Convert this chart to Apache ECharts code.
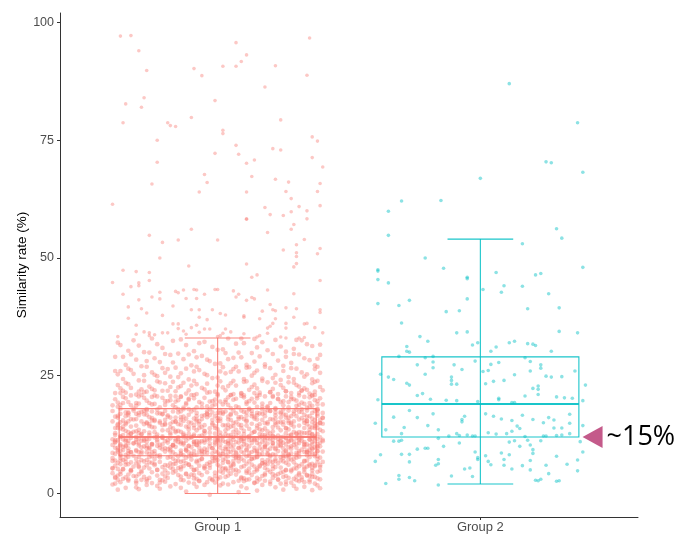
<!DOCTYPE html>
<html>
<head>
<meta charset="utf-8">
<script src="https://cdn.jsdelivr.net/npm/echarts@6/dist/echarts.min.js"></script>
<style>html,body{margin:0;padding:0;background:#fff}#c{width:688px;height:534px}</style>
</head>
<body>
<div id="c"></div>
<script>
const categories = ['Group 1', 'Group 2'];
const yTicks = [0, 25, 50, 75, 100];
// [min, Q1, median, Q3, max]
const boxStats = [[0, 8, 12, 18, 33], [2, 12, 19, 29, 54]];
const annotationValue = 12;
const annotationText = '~15%';

// points: [jitter (hundredths of a category), value]
const g1High = [
[-37,97.1],[-33,97.2],[-30,94.0],[-27,89.8],[-35,82.7],[-28,84.0],[-29,82.0],[-36,78.7],[-19,78.7],[-18,78.1],[-16,77.9],[-10,79.8],[-23,75.0],[-23,70.3],[-25,65.7],[-40,61.4],[-26,54.8],[-21,53.3],[-15,53.8],[-22,50.0],[-10,56.1],[-9,90.2],[-6,88.7],[2,90.7],[7,95.7],[7,90.7],[9,91.7],[11,93.1],[-1,83.4],[2,77.1],[2,76.4],[-1,72.2],[7,73.9],[8,72.0],[11,70.1],[14,70.8],[13,67.3],[-5,67.7],[-4,66.0],[-7,64.0],[11,64.0],[11,58.2],[11,58.3],[0,53.8],[11,48.7],[-11,48.3],[18,86.3],[22,90.8],[24,79.3],[21,73.2],[24,72.9],[22,66.7],[27,66.1],[26,64.1],[28,62.6],[18,60.7],[20,59.2],[25,59.0],[28,59.8],[31,60.9],[19,55.4],[29,57.1],[28,56.1],[30,52.8],[25,51.7],[30,51.1],[30,50.3],[33,53.9],[30,48.8],[29,48.1],[35,96.7],[34,88.8],[36,75.7],[38,74.8],[36,71.3],[40,69.3],[39,65.8],[38,64.1],[39,61.1],[34,60.0],[34,58.3],[39,52.0],[38,50.9],
[-36,47.4],[-31,47.1],[-26,46.9],[-40,44.8],[-33,43.9],[-30,44.7],[-30,44.1],[-26,45.2],[13,45.9],[15,46.4],[39,45.2],[-36,42.3],[-30,41.1],[-25,41.7],[-22,42.7],[-22,41.3],[-16,42.9],[-15,42.6],[-13,43.2],[-12,41.4],[-9,43.3],[-8,43.2],[-8,41.4],[-5,42.3],[-1,43.3],[0,43.3],[6,43.0],[8,42.3],[7,41.7],[11,41.0],[13,41.6],[14,41.3],[19,43.2],[29,42.4],[-34,39.6],[-29,39.2],[-27,38.3],[-34,37.2],[-17,39.8],[-10,39.0],[-7,39.0],[-2,39.0],[1,38.2],[3,37.9],[-7,37.4],[-4,36.9],[-21,37.8],[10,37.7],[10,37.4],[16,37.1],[17,38.7],[20,40.1],[21,39.0],[22,38.8],[22,37.1],[26,39.4],[30,39.2],[29,37.4],[39,38.4],[39,39.0],[-31,35.7],[-17,36.0],[-15,36.0],[-15,35.0],[-10,35.2],[-8,35.7],[-5,34.9],[-3,34.9],[3,34.9],[5,34.3],[19,35.1],[20,35.5],[21,36.1],[26,36.1],[26,35.1],[33,36.0],[34,36.1],[37,35.2],[40,34.1],[-38,33.3],[-31,33.8],[-28,34.3],[-26,34.1],[-26,33.5],[-24,33.7],[-21,34.1],[-19,34.1],[-13,34.5],[-12,33.8],[-7,34.2],[0,33.3],[1,33.5],[2,34.0],[10,33.9],[15,33.2],[16,33.5],[19,34.0],[24,33.2],[26,33.0],[31,33.0],[33,33.1]
];

const g1Core = [
[-12,0.4],[25,0.8],[-30,0.9],[8,0.3],[36,0.7],[-22,1.0],[15,0.6],[-3,-0.3],[30,1.0],[-38,0.8],
[-35,1.2],[-18,1.5],[4,1.9],[22,1.3],[38,1.7],[-27,1.8],[11,1.1],[29,1.6],[-8,1.4],[-40,1.9],[17,1.8],[-14,1.2],[33,1.4],[1,1.7],[-23,1.6],[26,1.9],[-31,1.3],[9,1.5],[39,1.1],[-5,1.8],
[-39,2.1],[-20,2.5],[-2,2.8],[14,2.2],[31,2.6],[-29,2.9],[6,2.4],[23,2.9],[-11,2.3],[37,2.1],[-34,2.7],[18,2.7],[-16,2.0],[2,2.1],[28,2.3],[-25,2.2],[11,2.9],[-7,2.6],[35,2.8],[-37,2.4],[20,2.0],[-13,2.8],[26,2.5],[-1,2.3],[-31,2.6],[8,2.7],[33,2.4],[-22,2.9],[15,2.5],[-9,2.1],
[-36,3.1],[-14,3.6],[5,4.2],[27,3.3],[39,4.8],[-25,4.5],[13,3.9],[-3,3.2],[31,4.0],[-38,3.8],[20,4.6],[-9,4.9],[9,3.4],[-30,4.1],[35,3.7],[-19,3.3],[1,4.7],[24,4.4],[-33,4.9],[16,3.0],
[-6,3.9],[37,3.5],[-23,3.8],[11,4.8],[29,3.1],[-40,4.3],[-12,4.1],[3,3.5],[22,3.8],[-27,3.0],[33,4.5],[-16,4.7],[7,4.0],[-35,3.4],[18,4.2],[-1,3.7],[38,3.2],[-21,4.2],[14,4.6],[-8,3.1],
[26,4.9],[-31,3.6],[2,4.4],[30,3.6],[-17,4.4],[10,3.2],[-37,4.6],[23,3.0],[-4,4.5],[36,4.2],[-26,3.3],[17,3.7],[-11,3.5],[34,3.9],[-2,3.0],[-29,4.8],[12,4.4],[25,3.5],[-15,3.9],[39,3.0],
[-34,4.0],[6,4.9],[21,4.1],[-20,4.9],[15,3.3],[-7,4.3],[28,4.7],[-39,3.5],[4,3.8],[32,3.4],
[-38,5.2],[-22,6.7],[-7,5.9],[9,7.4],[24,5.5],[36,6.3],[-30,7.8],[-14,5.1],[2,6.5],[17,7.1],[31,5.8],[-35,6.1],[-19,7.6],[-3,5.4],[12,6.8],[27,7.9],[39,5.6],[-26,5.3],[-10,7.2],[6,6.0],
[21,5.2],[34,7.0],[-40,6.9],[-17,6.2],[-1,7.7],[14,5.7],[29,6.6],[-33,5.0],[-12,6.4],[4,7.9],[19,6.2],[38,7.3],[-28,6.8],[-5,5.3],[10,5.8],[25,7.6],[-37,7.5],[-21,5.6],[0,6.1],[33,5.1],
[-31,6.4],[-15,7.0],[7,5.0],[22,6.9],[37,6.0],[-24,7.3],[-8,6.6],[15,7.8],[30,5.3],[-39,5.9],[-18,5.5],[3,7.3],[18,5.4],[35,7.7],[-27,6.0],[-11,7.9],[11,6.3],[26,5.0],[-36,7.1],[-2,6.8],
[-20,6.0],[8,7.6],[23,6.4],[40,6.7],[-32,5.7],[-13,5.8],[5,5.5],[20,7.8],[32,6.2],[-25,7.9],[-6,7.4],[13,6.1],[28,7.2],[-38,6.5],[-16,6.9],[1,5.7],[16,5.9],[36,5.4],[-29,7.1],[-9,5.0],
[10,7.0],[27,6.1],[-34,7.8],[-23,5.0],[-4,6.3],[14,7.5],[31,7.8],[-40,5.4],[-17,7.4],[6,6.9],[21,5.9],[38,6.6],[-28,5.5],[-11,6.1],[3,5.1],[18,6.6],[34,5.7],[-35,6.7],[-19,5.9],[-1,7.5],
[12,5.3],[25,6.8],[-31,7.3],[-7,7.0],[9,5.6],[29,7.4],[-37,6.2],[-14,6.7],[0,7.1],[17,6.4],[33,6.9],[-26,6.6],[-10,5.6],[7,7.7],[22,7.3],[39,7.6],[-22,7.7],[-3,6.0],[15,5.2],[30,6.0],
[-39,7.0],[-18,6.4],[4,6.6],[19,5.0],[35,5.9],[-30,5.6],[-12,7.6],[11,7.9],[26,6.5],[-33,6.6],[-5,5.8],[13,7.3],[37,7.9],[-24,6.3],[-8,6.9],[20,6.8],[-36,5.1],[2,5.3],[24,7.7],[-15,5.4],
[-37,8.3],[-21,10.4],[-6,9.1],[10,11.6],[25,8.7],[38,10.0],[-29,11.2],[-13,8.1],[3,9.8],[18,11.9],[32,9.3],[-34,9.6],[-18,11.7],[-2,8.5],[13,10.7],[28,11.3],[40,8.9],[-25,8.8],[-9,11.0],[6,10.2],
[22,8.2],[35,11.5],[-39,10.8],[-16,9.9],[0,11.4],[15,8.4],[30,10.5],[-32,8.0],[-11,10.1],[5,11.8],[20,9.5],[37,11.1],[-27,10.9],[-4,8.6],[11,9.2],[26,11.8],[-36,11.5],[-20,8.9],[1,9.7],[34,8.1],
[-30,10.2],[-14,11.0],[8,8.0],[23,10.9],[36,9.6],[-23,11.4],[-7,10.6],[16,11.9],[31,8.6],[-38,9.2],[-17,8.7],[4,11.2],[19,8.5],[36,11.7],[-26,9.5],[-10,11.9],[12,10.0],[27,8.3],[-35,11.1],[-1,10.8],
[-19,9.4],[9,11.6],[24,10.3],[39,10.8],[-31,9.0],[-12,9.1],[5,8.8],[21,11.5],[33,9.9],[-24,11.9],[-5,11.3],[14,9.7],[29,11.0],[-37,10.4],[-15,10.9],[2,9.0],[17,9.3],[35,8.5],[-28,11.2],[-8,8.2],
[10,11.1],[27,9.8],[-33,11.8],[-22,8.1],[-3,10.0],[15,11.4],[31,11.6],[-40,8.6],[-16,11.5],[7,10.9],[22,9.4],[38,10.5],[-27,8.7],[-10,9.8],[3,8.2],[19,10.6],[34,9.1],[-34,10.6],[-18,9.3],[0,11.9],
[12,8.6],[25,10.8],[-30,11.6],[-6,11.1],[9,8.9],[28,11.7],[-36,9.9],[-13,10.7],[1,11.3],[18,10.2],[33,10.9],[-25,10.5],[-9,9.0],[8,11.8],[23,11.6],[39,11.9],[-21,11.8],[-2,9.6],[16,8.3],[30,9.7],
[-38,11.3],[-17,10.3],[4,10.5],[20,8.1],[36,9.4],[-29,8.9],[-11,11.7],[11,11.9],[26,10.4],[-32,10.6],[-4,9.3],[14,11.5],[37,11.9],[-23,10.1],[-7,11.0],[21,10.7],[-35,8.2],[2,8.4],[24,11.9],[-14,8.6],
[-39,9.7],[-24,8.4],[-8,10.3],[7,8.7],[23,9.0],[35,10.1],[-28,10.0],[-12,11.2],[4,9.5],[17,11.0],[32,11.2],[-33,8.8],[-19,10.8],[-1,10.4],[13,8.8],[28,9.5],[40,11.4],[-26,11.6],[-10,8.4],[6,11.4],
[21,10.1],[34,8.7],[-37,9.1],[-15,11.6],[0,8.7],[16,10.5],[30,8.2],[-31,11.4],[-12,9.5],[5,10.0],[19,11.7],[37,8.4],[-27,9.6],[-5,10.8],[10,10.4],[26,9.1],[-35,10.2],[-20,11.1],[1,8.0],[33,10.3],
[-29,9.8],[-14,8.3],[8,9.7],[24,11.2],[38,9.0],[-22,9.7],[-6,8.9],[15,9.1],[31,10.7],[-39,11.0],[-17,10.2],[3,10.9],[18,9.9],[36,10.4],[-25,10.3],[-9,10.5],[12,11.3],[27,11.0],[-34,8.5],[-3,11.5],
[-36,12.4],[-20,15.6],[-5,13.3],[11,17.2],[26,12.8],[39,14.9],[-28,16.8],[-12,12.1],[4,14.6],[19,17.7],[33,13.9],[-33,14.2],[-17,17.4],[-1,12.7],[14,15.9],[29,16.9],[40,13.2],[-24,13.0],[-8,16.4],[7,15.1],
[23,12.3],[36,17.1],[-38,16.1],[-15,14.7],[1,17.0],[16,12.6],[31,15.7],[-31,12.0],[-10,15.0],[6,17.6],[21,14.1],[38,16.5],[-26,16.2],[-3,12.9],[12,13.7],[27,17.6],[-35,17.2],[-19,13.4],[2,14.5],[35,12.2],
[-29,15.3],[-13,16.3],[9,12.0],[24,16.1],[37,14.3],[-22,17.0],[-6,15.8],[17,17.9],[32,12.9],[-37,13.8],[-16,13.0],[5,16.7],[20,12.7],[37,17.5],[-25,14.1],[-9,17.8],[13,14.8],[28,12.4],[-34,16.6],[0,16.0],
[-18,14.0],[10,17.3],[25,15.2],[40,16.0],[-30,13.5],[-11,13.6],[6,13.1],[22,17.2],[34,14.7],[-23,17.8],[-4,16.8],[15,14.4],[30,16.4],[-36,15.5],[-14,16.2],[3,13.4],[18,13.8],[36,12.6],[-27,16.7],[-7,12.2],
[11,16.5],[28,14.6],[-32,17.6],[-21,12.1],[-2,14.9],[16,17.0],[32,17.3],[-39,12.8],[-15,17.2],[8,16.2],[23,14.0],[39,15.6],[-26,12.9],[-9,14.5],[4,12.3],[20,15.8],[35,13.5],[-33,15.8],[-17,13.8],[1,17.7],
[13,12.8],[26,16.1],[-29,17.3],[-5,16.6],[10,13.3],[29,17.4],[-35,14.7],[-12,15.9],[2,16.9],[19,15.1],[34,16.3],[-24,15.6],[-8,13.4],[9,17.6],[24,17.3],[38,17.8],[-20,17.5],[-1,14.3],[17,12.4],[31,14.4],
[-37,16.9],[-16,15.3],[5,15.6],[21,12.1],[37,13.9],[-28,13.2],[-10,17.4],[12,17.8],[27,15.4],[-31,15.8],[-3,13.8],[15,17.1],[38,17.9],[-22,15.0],[-6,16.5],[22,15.9],[-34,12.3],[3,12.6],[25,17.8],[-13,12.7],
[-38,14.5],[-23,12.5],[-7,15.3],[8,12.9],[24,13.4],[36,15.1],[-27,14.9],[-11,16.7],[5,14.2],[18,16.4],[33,16.7],[-32,13.1],[-18,16.1],[0,15.4],[14,13.1],[29,14.2],[40,17.1],[-25,17.4],[-9,12.5],[7,17.0],
[22,15.0],[35,12.9],[-36,13.6],[-14,17.4],[1,12.9],[17,15.6],[31,12.3],[-30,17.1],[-11,14.2],[6,15.0],[20,17.5],[38,12.6],[-26,14.3],[-4,16.2],[11,15.5],[27,13.6],[-34,15.3],[-19,16.6],[2,12.0],[34,15.4],
[-28,14.7],[-13,12.4],[9,14.5],[25,16.8],[39,13.5],[-21,14.5],[-5,13.2],[16,13.6],[32,16.0],[-38,16.5],[-16,15.2],[4,16.3],[19,14.8],[37,15.6],[-24,15.4],[-8,15.7],[13,16.9],[28,16.4],[-33,12.7],[-2,17.2],
[-39,13.9],[-21,16.9],[-6,14.1],[10,15.8],[26,13.8],[38,16.9],[-29,12.6],[-14,14.6],[3,17.4],[18,12.4],[33,15.0],[-34,17.0],[-18,12.5],[-2,15.6],[13,17.5],[29,13.1],[40,14.8],[-25,16.0],[-9,13.9],[7,13.5],
[22,16.6],[36,14.0],[-37,12.1],[-15,13.3],[0,13.6],[15,16.6],[30,12.8],[-31,14.4],[-11,17.9],[5,12.4],[21,13.2],[37,12.1],[-27,17.9],[-4,17.0],[12,12.2],[27,15.0],[-35,13.3],[-20,14.8],[1,15.9],[34,17.6],
[-38,18.4],[-21,20.3],[-6,19.1],[10,20.8],[25,18.7],[38,19.6],[-29,20.9],[-13,18.2],[3,19.8],[18,20.6],[32,19.3],[-34,19.4],[-18,20.7],[-2,18.6],[13,20.1],[28,20.5],[40,18.9],[-25,18.9],[-9,20.2],[6,19.9],
[22,18.1],[35,20.4],[-39,20.0],[-16,19.5],[0,20.8],[15,18.4],[30,19.7],[-32,18.0],[-11,19.9],[5,20.9],[20,19.2],[37,20.9],[-27,19.7],[-4,18.5],[11,19.0],[26,20.6],[-36,20.5],[-20,18.8],[1,19.5],[34,18.2],
[-30,19.1],[-14,20.5],[8,18.3],[23,20.0],[36,18.6],[-23,20.6],[-7,19.4],[16,20.9],[31,18.8],[-38,19.3],[-17,18.7],[4,20.4],[19,18.5],[36,20.7],[-26,19.2],[-10,20.9],[12,19.6],[27,18.3],[-35,20.2],[-1,19.9],
[-19,19.6],[9,20.7],[24,19.4],[39,20.2],[-31,18.6],[-12,18.9],[5,18.1],[21,20.5],[33,19.0],[-24,20.8],[-5,20.3],[14,19.3],[29,20.0],[-37,18.8],[-15,19.8],[2,18.9],[17,19.1],[35,18.4],[-28,20.3],[-8,18.3],
[10,20.4],[27,19.4],[-33,20.8],[-22,18.3],[-3,19.5],[15,20.2],[31,20.8],[-40,18.7],[-16,20.6],[7,20.1],
[-37,21.3],[-20,23.4],[-5,22.1],[11,23.8],[26,21.7],[39,22.6],[-28,23.9],[-12,21.2],[4,22.8],[19,23.6],[33,22.3],[-33,22.4],[-17,23.7],[-1,21.6],[14,23.1],[29,23.5],[40,21.9],[-24,21.9],[-8,23.2],[7,22.9],
[23,21.1],[36,23.4],[-38,23.0],[-15,22.5],[1,23.8],[16,21.4],[31,22.7],[-31,21.0],[-10,22.9],[6,23.9],[21,22.2],[38,23.9],[-26,22.7],[-3,21.5],[12,22.0],[27,23.6],[-35,23.5],[-19,21.8],[2,22.5],[35,21.2],
[-29,22.1],[-13,23.5],[9,21.3],[24,23.0],[37,21.6],[-22,23.6],[-6,22.4],[17,23.9],[32,21.8],[-37,22.3],[-16,21.7],[5,23.4],[20,21.5],[37,23.7],[-25,22.2],[-9,23.9],[13,22.6],[28,21.3],[-34,23.2],[0,22.9],
[-18,22.6],[10,23.7],[25,22.4],[-30,21.6],[-11,21.9],[6,21.1],[22,23.5],[34,22.0],[-23,23.8],[-4,23.3],[15,22.3],[30,23.0],[-36,21.8],[-14,22.8],[3,21.9],
[-36,24.3],[-19,26.4],[-4,25.1],[12,26.8],[27,24.7],[39,25.6],[-27,26.9],[-11,24.2],[5,25.8],[20,26.6],[34,25.3],[-32,25.4],[-16,26.7],[0,24.6],[15,26.1],[30,26.5],[-23,24.9],[-7,26.2],[8,25.9],[-39,26.0],
[24,24.1],[37,26.4],[-37,26.0],[-14,25.5],[2,26.8],[17,24.4],[32,25.7],[-30,24.0],[-9,25.9],[7,26.9],[22,25.2],[38,26.9],[-25,25.7],[-2,24.5],[13,25.0],[28,26.6],[-34,26.5],[-18,24.8],[3,25.5],[36,24.2],
[-28,25.1],[-12,26.5],[10,24.3],[25,26.0],[-21,26.6],[-5,25.4],[18,26.9],[33,24.8],[-38,25.3],[-15,24.7],[6,26.4],[21,24.5],[-24,25.2],[-8,26.9],[14,25.6],[29,24.3],[-33,26.2],[1,25.9],[-20,25.6],[11,26.7],
[-35,27.3],[-18,29.4],[-3,28.1],[13,29.8],[28,27.7],[38,28.6],[-26,29.9],[-10,27.2],[6,28.8],[21,29.6],[35,28.3],[-31,28.4],[-15,29.7],[1,27.6],[16,29.1],[31,29.5],[-22,27.9],[-6,29.2],[9,28.9],[-39,29.0],
[25,27.1],[39,29.4],[-36,29.0],[-13,28.5],[3,29.8],[18,27.4],[33,28.7],[-29,27.0],[-8,28.9],[8,29.9],[23,28.2],[-24,28.7],[-1,27.5],[14,28.0],[29,29.6],[-33,29.5],[-17,27.8],[4,28.5],[37,27.2],[-27,28.1],
[-11,29.5],[11,27.3],[26,29.0],[-20,29.6],[-4,28.4],
[-34,30.3],[-17,32.4],[-2,31.1],[14,32.8],[29,30.7],[39,31.6],[-25,32.9],[-9,30.2],[7,31.8],[22,32.6],[36,31.3],[-30,31.4],[-14,32.7],[2,30.6],[17,32.1],[32,32.5],[-21,30.9],[-5,32.2],[10,31.9],[-38,32.0],
[26,30.1],[-37,31.5],[-12,31.5],[4,32.9],[19,30.4],[34,31.7],[-28,30.0],[-7,31.9],[9,32.9],[24,31.2],[-23,31.7],[0,30.5],[15,31.0],[30,32.6],[-32,32.5]
];

const g1Core2 = [
[3,5.4],[-27,2.6],[19,7.1],[-9,3.9],[35,6.2],[-33,4.7],[14,2.3],[-18,7.8],[28,5.0],[-1,6.9],
[-39,3.3],[23,4.1],[7,7.5],[-24,6.0],[32,2.9],[-14,5.6],[0,3.1],[38,7.9],[-30,6.6],[11,4.4],
[-6,7.3],[26,3.7],[-36,5.2],[17,6.4],[-21,2.8],[36,4.9],[5,5.9],[-12,4.2],[30,7.6],[-28,3.5],
[21,6.7],[-4,2.4],[-37,7.0],[9,3.2],[33,5.5],[-16,6.3],[15,7.7],[-31,2.2],[25,4.6],[-8,5.1],
[-2,7.6],[31,4.3],[-25,6.5],[12,3.0],[37,5.8],[-35,7.4],[20,2.5],[-11,6.1],[4,4.8],[-20,3.6],
[27,7.2],[-40,5.3],[16,5.7],[-7,2.7],[34,3.8],[-29,4.5],[8,6.8],[-15,7.9],[24,2.1],[-34,6.2],
[1,3.4],[39,6.0],[-23,5.0],[13,7.4],[-10,4.0],[29,5.3],[-38,2.9],[18,3.9],[-3,6.6],[-26,7.7],
[35,2.4],[6,6.3],[-19,4.3],[22,5.6],[-32,3.7],[10,2.6],[-13,6.9],[38,4.6],[-5,5.5],[26,7.9],
[-37,4.1],[2,7.2],[-22,2.3],[33,6.8],[15,4.9],[-30,5.8],[-9,3.2],[21,3.3],[-17,5.2],[8,4.7],
[-40,7.5],[30,2.8],[-1,4.4],[18,6.2],[-27,7.1],[36,3.5],[-14,2.9],[4,6.7],[-34,3.0],[24,7.0],
[3,9.4],[-27,11.6],[19,8.3],[-9,10.9],[35,9.2],[-33,8.7],[14,11.3],[-18,9.8],[28,10.0],[-1,8.9],
[-39,11.3],[23,10.1],[7,8.5],[-24,9.0],[32,11.9],[-14,10.6],[0,11.1],[38,8.9],[-30,10.6],[11,9.4],
[-6,8.3],[26,11.7],[-36,9.2],[17,8.4],[-21,11.8],[36,10.9],[5,10.9],[-12,9.2],[30,8.6],[-28,11.5],
[21,10.7],[-4,11.4],[-37,8.0],[9,11.2],[33,10.5],[-16,8.3],[15,10.7],[-31,9.2],[25,9.6],[-8,11.1],
[-2,9.6],[31,11.3],[-25,10.5],[12,8.0],[37,9.8],[-35,11.4],[20,11.5],[-11,10.1],[4,8.8],[-20,9.6],
[27,8.2],[-40,10.3],[16,9.7],[-7,9.7],[34,8.8],[-29,8.5],[8,10.8],[-15,11.9],[24,10.1],[-34,11.2],
[1,10.4],[39,10.0],[-23,8.0],[13,11.4],[-10,8.0],[29,10.3],[-38,8.9],[18,9.9],[-3,10.6],[-26,9.7],
[35,11.4],[6,9.3],[-19,11.3],[22,9.6],[-32,10.7],[10,8.6],[-13,11.9],[38,11.6],[-5,9.5],[26,8.9],
[-37,10.1],[2,11.2],[-22,10.3],[33,8.8],[15,8.9],[-30,8.8],[-9,8.2],[21,8.3],[-17,10.2],[8,9.6],
[-40,11.5],[30,11.8],[-1,11.4],[18,11.2],[-27,10.1],[36,8.5],[-14,9.1],[4,10.7],[-34,9.0],[24,11.0],
[-5,8.7],[27,11.1],[-23,11.0],[11,10.3],[-38,9.7],[19,9.2],[-11,8.7],[34,10.4],[-31,10.9],[6,8.0],
[-18,8.9],[31,9.0],[-3,11.9],[14,9.1],[-26,8.4],[38,9.7],[-8,10.3],[22,11.9],[-35,10.0],[1,8.3],
[17,11.9],[-21,9.4],[28,8.5],[-13,10.4],[9,9.9],[-39,8.4],[25,8.0],[-16,11.1],[40,11.1],[-7,8.9],
[3,14.4],[-27,17.6],[19,12.3],[-9,15.9],[35,14.2],[-33,12.7],[14,16.3],[-18,14.8],[28,15.0],[-1,13.9],
[-39,16.3],[23,15.1],[7,12.5],[-24,14.0],[32,17.9],[-14,15.6],[0,17.1],[38,13.9],[-30,16.6],[11,14.4],
[-6,12.3],[26,16.7],[-36,14.2],[17,13.4],[-21,16.8],[36,15.9],[5,16.9],[-12,14.2],[30,12.6],[-28,17.5],
[21,15.7],[-4,17.4],[-37,12.0],[9,16.2],[33,15.5],[-16,13.3],[15,15.7],[-31,13.2],[25,14.6],[-8,17.1],
[-2,14.6],[31,17.3],[-25,15.5],[12,12.0],[37,14.8],[-35,16.4],[20,17.5],[-11,15.1],[4,13.8],[-20,14.6],
[27,12.2],[-40,15.3],[16,14.7],[-7,14.7],[34,12.8],[-29,12.5],[8,15.8],[-15,17.9],[24,15.1],[-34,17.2],
[1,15.4],[39,15.0],[-23,12.0],[13,16.4],[-10,12.0],[29,15.3],[-38,13.9],[18,14.9],[-3,16.6],[-26,14.7],
[35,16.4],[6,14.3],[-19,16.3],[22,14.6],[-32,15.7],[10,12.6],[-13,17.9],[38,17.6],[-5,14.5],[26,13.9],
[-37,15.1],[2,17.2],[-22,15.3],[33,12.8],[15,13.9],[-30,12.8],[-9,12.2],[21,12.3],[-17,15.2],[8,14.6],
[-40,17.5],[30,17.8],[-1,16.4],[18,17.2],[-27,15.1],[36,12.5],[-14,13.1],[4,15.7],[-34,13.0],[24,17.0],
[-5,12.7],[27,16.1],[-23,17.0],[11,15.3],[-38,14.7],[19,13.2],[-11,12.7],[34,15.4],[-31,16.9],[6,12.0],
[-18,12.9],[31,13.0],[-3,17.9],[14,13.1],[-26,12.4],[38,14.7],[-8,15.3],[22,17.9],[-35,15.0],[1,12.3],
[17,16.9],[-21,13.4],[28,12.5],[-13,15.4],[9,13.9],[-39,12.4],[25,12.0],[-16,16.1],[40,16.1],[-7,13.9],
[3,19.4],[-27,21.6],[19,18.3],[-9,20.9],[35,19.2],[-33,18.7],[14,21.3],[-18,19.8],[28,20.0],[-1,18.9],
[-39,21.3],[23,20.1],[7,18.5],[-24,19.0],[32,21.9],[-14,20.6],[0,21.1],[38,18.9],[-30,20.6],[11,19.4],
[-6,18.3],[26,21.7],[-36,19.2],[17,18.4],[-21,21.8],[36,20.9],[5,20.9],[-12,19.2],[30,18.6],[-28,21.5],
[21,20.7],[-4,21.4],[-37,18.0],[9,21.2],[33,20.5],[-16,18.3],[15,20.7],[-31,19.2],[25,19.6],[-8,21.1],
[-2,19.6],[31,21.3],[-25,20.5],[12,18.0],[37,19.8],[-35,21.4],[20,21.5],[-11,20.1],[4,18.8],[-20,19.6]
];

const g2Points = [
[11,87.0],[37,78.7],[25,70.4],[27,70.2],[39,68.2],[0,66.9],[-30,62.1],[-15,62.2],[-35,59.9],[-35,54.8],[29,56.2],[31,54.2],[16,53.0],[-21,50.0],[-14,47.8],[-39,47.5],[39,48.0],
[-39,47.2],[-39,45.4],[-35,44.7],[-5,45.9],[-5,45.6],[6,46.9],[21,46.4],[23,46.7],[16,44.0],[9,44.1],[8,42.7],[1,43.3],[26,42.4],[-5,41.3],[-39,40.3],[-31,39.9],[-27,41.0],[-8,38.8],[-13,38.6],[18,39.2],[30,39.4],[-30,36.2],[-9,34.1],[-5,34.3],[30,34.4],[37,34.1],[-23,33.3],[-20,32.3],[-28,31.2],[-28,30.2],[-27,30.0],[-1,32.0],[-3,31.5],[4,30.2],[6,31.1],[11,32.0],[13,32.3],[18,31.8],[20,31.7],[21,31.4],[27,30.2],[-31,29.1],[-21,28.8],[-18,29.1],
[-18,27.9],[-24,27.3],[-18,26.7],[-10,27.3],[-7,26.3],[-2,28.1],[1,25.9],[3,26.1],[4,27.4],[7,27.8],[17,28.8],[19,28.0],[23,27.3],[23,26.6],[19,26.0],[36,26.0],[-38,25.3],[-35,24.7],[-33,24.2],[-21,25.3],[-11,24.7],[-11,24.0],[-9,23.2],[-11,23.2],[-28,23.4],[-27,23.0],[5,23.8],[2,23.3],[9,24.0],[13,25.2],[25,24.9],[27,24.7],[31,24.8],[20,22.3],[22,22.1],[22,22.8],[40,23.0],[22,21.0],[17,20.7],[-24,20.8],[-22,21.2],[-19,20.0],[-13,19.8],[-9,19.7],[7,20.2],[7,19.9],[12,19.3],[13,19.3],[29,20.5],[32,20.3],[35,20.2],[-39,19.9],[39,19.7],[-1,19.5],[-27,17.6],[-33,16.2],[-24,16.1],[-18,16.9],[-7,15.7],[-6,16.4],[-7,15.2],[2,16.9],[5,16.4],[8,15.8],[12,15.5],[14,14.3],[15,13.8],[16,16.6],[20,15.7],[24,15.0],[26,16.1],[28,15.6],[31,13.9],[28,13.9],[34,16.8],[34,14.9],[34,12.7],[-40,14.9],[-36,13.5],[-29,14.0],[-20,14.4],[-16,13.5],[-12,12.2],[-9,12.7],[-8,12.3],[-5,12.4],[-3,12.2],[-2,12.2],[3,12.9],[6,12.6],[10,12.7],[12,13.2],[17,12.1],[24,12.2],[25,12.2],[29,12.3],[31,12.4],[-30,12.7],[39,14.4],
[-33,11.1],[-31,11.1],[-30,11.3],[-16,11.7],[-21,9.6],[-20,9.6],[-24,9.4],[-14,10.0],[-8,10.7],[-2,8.8],[-1,7.6],[-1,7.2],[2,8.0],[11,10.9],[13,11.2],[15,10.0],[18,11.3],[19,10.3],[20,9.3],[20,8.5],[23,11.2],[38,11.0],[39,8.8],[-38,8.2],[-40,6.8],[-30,8.3],[-27,8.3],[-27,6.7],[-16,7.2],[-16,6.3],[-17,6.0],[-6,5.2],[-4,5.4],[3,6.8],[4,6.1],[8,8.6],[9,7.2],[9,6.0],[11,8.2],[12,5.2],[16,5.9],[19,7.0],[19,5.0],[25,6.0],[29,7.9],[33,6.2],[37,7.1],[37,4.8],[-31,3.8],[-31,3.0],[-27,3.4],[-25,2.7],[-36,2.1],[-16,1.8],[-11,3.7],[-3,3.6],[21,2.8],[22,2.7],[23,3.0],[26,4.2],[29,2.6],[30,2.7]
];

const colors = ['#F8766D', '#00BFC4'];
const toXY = (pts, g) => pts.map(p => [g + 1 + p[0] / 100, p[1]]);

const chart = echarts.init(document.getElementById('c'), null, {renderer: 'canvas'});

function renderBox(params, api) {
  const g = api.value(0);
  const x = g + 1;
  const pMin = api.coord([x, api.value(1)]);
  const pQ1 = api.coord([x, api.value(2)]);
  const pMed = api.coord([x, api.value(3)]);
  const pQ3 = api.coord([x, api.value(4)]);
  const pMax = api.coord([x, api.value(5)]);
  const bw = api.size([0.75, 0])[0];
  const cw = api.size([0.25, 0])[0];
  const c = colors[g];
  const cx = pMed[0];
  const st = {stroke: c, lineWidth: 1.1, fill: null, opacity: 0.9};
  return {
    type: 'group',
    children: [
      {type: 'line', shape: {x1: cx, y1: pMin[1], x2: cx, y2: pQ1[1]}, style: st},
      {type: 'line', shape: {x1: cx, y1: pQ3[1], x2: cx, y2: pMax[1]}, style: st},
      {type: 'line', shape: {x1: cx - cw / 2, y1: pMin[1], x2: cx + cw / 2, y2: pMin[1]}, style: st},
      {type: 'line', shape: {x1: cx - cw / 2, y1: pMax[1], x2: cx + cw / 2, y2: pMax[1]}, style: st},
      {type: 'rect', shape: {x: cx - bw / 2, y: pQ3[1], width: bw, height: pQ1[1] - pQ3[1]}, style: st},
      {type: 'line', shape: {x1: cx - bw / 2, y1: pMed[1], x2: cx + bw / 2, y2: pMed[1]}, style: Object.assign({}, st, {lineWidth: 2})},
      {type: 'line', shape: {x1: cx, y1: pQ1[1], x2: cx, y2: pQ3[1]}, style: st}
    ]
  };
}

const option = {
  animation: false,
  backgroundColor: '#ffffff',
  grid: {left: 60, right: 50, top: 13, bottom: 17, containLabel: false},
  xAxis: {
    type: 'value', min: 0.4, max: 2.6,
    axisLine: {onZero: false, lineStyle: {color: '#333333', width: 1}},
    axisTick: {show: true, length: 3, lineStyle: {color: '#333333'}, customValues: [1, 2]},
    axisLabel: {customValues: [1, 2], formatter: v => categories[Math.round(v) - 1] || '', color: '#4D4D4D', fontSize: 13, fontFamily: 'Liberation Sans', margin: 4},
    splitLine: {show: false}
  },
  yAxis: {
    type: 'value', min: -5, max: 102,
    name: 'Similarity rate (%)', nameLocation: 'middle', nameGap: 31, nameMoveOverlap: false,
    nameTextStyle: {color: '#000000', fontSize: 13.5, fontFamily: 'Liberation Sans'},
    axisLine: {show: true, onZero: false, lineStyle: {color: '#333333', width: 1}},
    axisTick: {show: true, length: 3, lineStyle: {color: '#333333'}, customValues: yTicks},
    axisLabel: {customValues: yTicks, color: '#4D4D4D', fontSize: 12.5, fontFamily: 'Liberation Sans', margin: 6},
    splitLine: {show: false}
  },
  series: [
    {type: 'scatter', data: toXY(g1Core.concat(g1Core2), 0), symbolSize: 4.7, itemStyle: {color: colors[0], opacity: 0.4}, z: 2, silent: true},
    {type: 'scatter', data: toXY(g1High, 0), symbolSize: 3.6, itemStyle: {color: colors[0], opacity: 0.4}, z: 2, silent: true},
    {type: 'scatter', data: toXY(g2Points, 1), symbolSize: 3.6, itemStyle: {color: colors[1], opacity: 0.45}, z: 2, silent: true},
    {type: 'custom', renderItem: renderBox, data: boxStats.map((s, i) => [i].concat(s)), encode: {x: 0, y: [1, 2, 3, 4, 5]}, z: 3, silent: true},
    {type: 'scatter', data: [[2.427, annotationValue]], symbol: 'triangle', symbolSize: [22, 20], symbolRotate: 90,
     itemStyle: {color: '#C45A8A', opacity: 1}, z: 4, silent: true,
     label: {show: true, position: 'right', distance: 4, formatter: annotationText, color: '#000000', fontSize: 27, fontFamily: 'Open Sans'}}
  ]
};
chart.setOption(option);
</script>
</body>
</html>
